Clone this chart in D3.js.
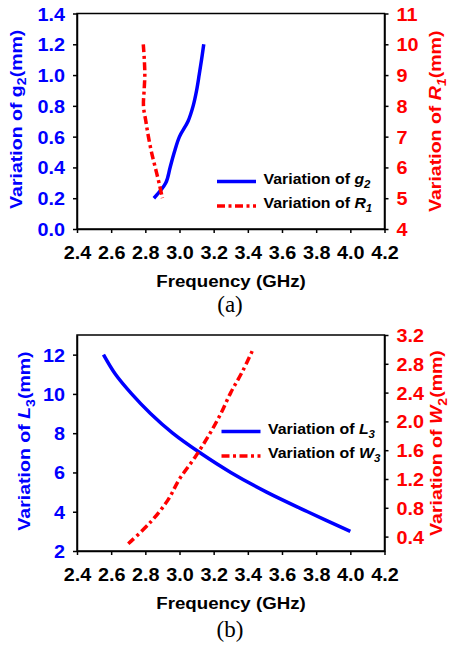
<!DOCTYPE html>
<html><head><meta charset="utf-8">
<script src="https://cdn.jsdelivr.net/npm/d3@7"></script>
<style>
body{margin:0;background:#fff}
svg text{font-family:"Liberation Sans",Arial,sans-serif;font-weight:bold}
</style>
</head><body>
<svg id="c" width="449" height="648"></svg>
<script>
// ---------- data ----------
const freqTicks = [2.4,2.6,2.8,3.0,3.2,3.4,3.6,3.8,4.0,4.2];
// chart (a)
const g2Ticks = [0,0.2,0.4,0.6,0.8,1.0,1.2,1.4];
const r1Ticks = [4,5,6,7,8,9,10,11];
const g2Values = [0.2,0.3,0.4,0.5,0.6,0.7,0.8,0.9,1.0,1.1,1.2];
const g2Freq   = [2.85,2.92,2.945,2.97,3.0,3.05,3.08,3.10,3.115,3.129,3.142];
const r1Values = [10,9.5,9,8.5,8,7.5,7,6.5,6,5.5,5];
const r1Freq   = [2.788,2.794,2.797,2.793,2.789,2.803,2.818,2.836,2.858,2.88,2.9];
// chart (b)
const l3Ticks = [2,4,6,8,10,12];
const w3Ticks = [0.4,0.8,1.2,1.6,2.0,2.4,2.8,3.2];
const l3Values = [12,11,10,9,8,7,6,5,4,3];
const l3Freq   = [2.555,2.625,2.72,2.83,2.96,3.12,3.30,3.51,3.75,4.0];
const w3Values = [0.3,0.6,0.9,1.2,1.5,1.8,2.1,2.4,2.7,3.0];
const w3Freq   = [2.70,2.83,2.93,3.0,3.09,3.17,3.24,3.30,3.37,3.43];

const BLUE = "#0000ff", RED = "#ff0000";
const svg = d3.select("#c");
const SX = 1.1;

function richText(parent, x, y, parts, o) {
  const size = o.size || 17, sx = o.sx || SX;
  let tr = `translate(${x},${y})`;
  if (o.rotate) tr += ` rotate(${o.rotate})`;
  tr += ` scale(${sx},1)`;
  const t = parent.append("text").attr("transform", tr)
    .attr("text-anchor", o.anchor || "start")
    .attr("fill", o.fill || "#000").style("font-size", size + "px");
  if (o.family) t.style("font-family", o.family).style("font-weight", o.weight || "normal");
  let shifted = false;
  parts.forEach(p => {
    const [str, st] = Array.isArray(p) ? p : [p, ""];
    const ts = t.append("tspan").text(str);
    if (st.includes("i")) ts.style("font-style", "italic");
    if (st.includes("s")) {
      ts.style("font-size", (size * 0.72) + "px").attr("dy", size * 0.28);
      shifted = true;
    } else if (shifted) {
      ts.attr("dy", -size * 0.28); shifted = false;
    }
  });
  return t;
}

function chart(cfg) {
  const L = 77, R = 384.5, T = cfg.top, B = cfg.bottom;
  const x = d3.scaleLinear().domain([2.4, 4.2]).range([L, R]);
  const yL = d3.scaleLinear().domain(cfg.leftDomain).range([B, T]);
  const yR = d3.scaleLinear().domain(cfg.rightDomain).range([B, T]);
  const g = svg.append("g");

  g.append("rect").attr("x", L).attr("y", T).attr("width", R - L).attr("height", B - T)
    .attr("fill", "none").attr("stroke", "#000").attr("stroke-width", 1.5);

  function styleAxis(ax, color, dx, dy, anchor) {
    ax.select(".domain").attr("stroke", "#000").attr("stroke-width", 1.5);
    ax.selectAll(".tick line").attr("stroke", "#000").attr("stroke-width", 1.5);
    ax.selectAll(".tick text").each(function () {
      const s = d3.select(this);
      s.attr("x", null).attr("y", null).attr("dy", null)
        .attr("transform", `translate(${dx},${dy}) scale(${SX},1)`)
        .attr("text-anchor", anchor).attr("fill", color)
        .style("font-size", "18px").style("font-family", null);
    });
    ax.attr("font-family", null).attr("font-size", null);
  }

  const ax = g.append("g").attr("transform", `translate(0,${B})`)
    .call(d3.axisBottom(x).tickValues(freqTicks).tickFormat(d3.format(".1f")).tickSize(4).tickSizeOuter(0));
  styleAxis(ax, "#000", 0, 29.5, "middle");

  const al = g.append("g").attr("transform", `translate(${L},0)`)
    .call(d3.axisLeft(yL).tickValues(cfg.leftTicks).tickFormat(cfg.leftFmt).tickSize(4).tickSizeOuter(0));
  styleAxis(al, BLUE, -12, 6.5, "end");

  const ar = g.append("g").attr("transform", `translate(${R},0)`)
    .call(d3.axisRight(yR).tickValues(cfg.rightTicks).tickFormat(cfg.rightFmt).tickSize(4).tickSizeOuter(0));
  styleAxis(ar, RED, 12, 6.5, "start");

  // series
  const lineL = d3.line().x(d => x(d[0])).y(d => yL(d[1])).curve(d3.curveCatmullRom);
  const lineR = d3.line().x(d => x(d[0])).y(d => yR(d[1])).curve(d3.curveCatmullRom);
  g.append("path").datum(d3.zip(cfg.leftFreq, cfg.leftValues)).attr("d", lineL)
    .attr("fill", "none").attr("stroke", BLUE).attr("stroke-width", 3.5);
  g.append("path").datum(d3.zip(cfg.rightFreq, cfg.rightValues)).attr("d", lineR)
    .attr("fill", "none").attr("stroke", RED).attr("stroke-width", 3.5)
    .attr("stroke-dasharray", "8,3.5,3,3.5");

  // legend
  const lg = cfg.legend;
  g.append("line").attr("x1", lg.x).attr("x2", lg.x + 39).attr("y1", lg.y).attr("y2", lg.y)
    .attr("stroke", BLUE).attr("stroke-width", 3.5);
  g.append("line").attr("x1", lg.x).attr("x2", lg.x + 39).attr("y1", lg.y + 24.5).attr("y2", lg.y + 24.5)
    .attr("stroke", RED).attr("stroke-width", 3.5).attr("stroke-dasharray", "8,3.5,3,3.5");
  richText(g, lg.x + 46.5, lg.y + 2, lg.t1, {size: 15, sx: 1.06});
  richText(g, lg.x + 46.5, lg.y + 26.5, lg.t2, {size: 15, sx: 1.06});

  // titles
  richText(g, 231, B + 58, ["Frequency (GHz)"], {anchor: "middle", sx: 1.1});
  richText(g, cfg.lTitleX, (T + B) / 2 - 2, cfg.lTitle, {anchor: "middle", rotate: -90, fill: BLUE, sx: 1.15});
  richText(g, cfg.rTitleX, (T + B) / 2, cfg.rTitle, {anchor: "middle", rotate: -90, fill: RED, sx: 1.15});
  richText(g, 230, cfg.capY, [cfg.caption], {anchor: "middle", size: 23, sx: 1,
    family: '"Liberation Serif","Times New Roman",serif'});
}

chart({
  top: 13.5, bottom: 229,
  leftDomain: [0, 1.4], rightDomain: [4, 11],
  leftTicks: g2Ticks, rightTicks: r1Ticks,
  leftFmt: d3.format(".1f"), rightFmt: d3.format("d"),
  leftFreq: g2Freq, leftValues: g2Values, rightFreq: r1Freq, rightValues: r1Values,
  legend: {x: 217, y: 181.5,
    t1: ["Variation of ", ["g", "i"], ["2", "is"]],
    t2: ["Variation of ", ["R", "i"], ["1", "is"]]},
  lTitle: ["Variation of g", ["2", "s"], "(mm)"], lTitleX: 21.5,
  rTitle: ["Variation of ", ["R", "i"], ["1", "is"], "(mm)"], rTitleX: 441,
  caption: "(a)", capY: 312
});

chart({
  top: 335, bottom: 551,
  leftDomain: [2, 13], rightDomain: [0.2, 3.2],
  leftTicks: l3Ticks, rightTicks: w3Ticks,
  leftFmt: d3.format("d"), rightFmt: d3.format(".1f"),
  leftFreq: l3Freq, leftValues: l3Values, rightFreq: w3Freq, rightValues: w3Values,
  legend: {x: 221.5, y: 431.5,
    t1: ["Variation of ", ["L", "i"], ["3", "is"]],
    t2: ["Variation of ", ["W", "i"], ["3", "is"]]},
  lTitle: ["Variation of ", ["L", "i"], ["3", "s"], "(mm)"], lTitleX: 30,
  rTitle: ["Variation of ", ["W", "i"], ["2", "s"], "(mm)"], rTitleX: 442,
  caption: "(b)", capY: 637
});
</script>
</body></html>
